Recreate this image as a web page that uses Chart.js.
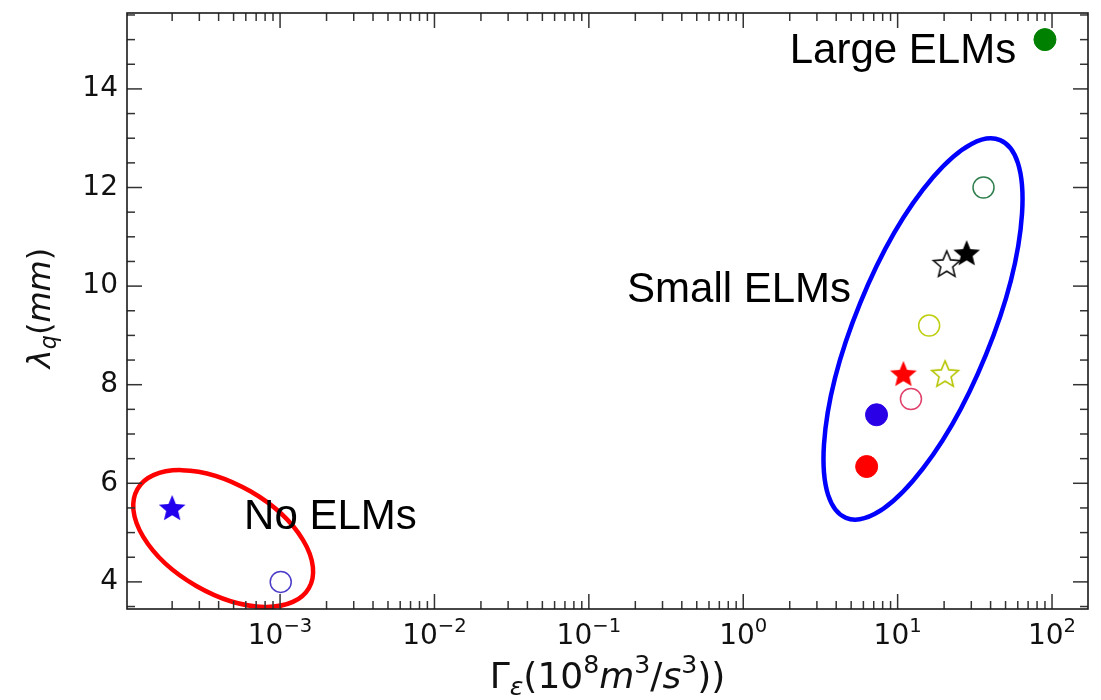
<!DOCTYPE html>
<html>
<head>
<meta charset="utf-8">
<script src="https://cdn.jsdelivr.net/npm/chart.js@4.4.1/dist/chart.umd.min.js"></script>
<style>
  html, body { margin: 0; padding: 0; background: #fff; }
</style>
</head>
<body>
<canvas id="chart" width="1101" height="700"></canvas>
<script>
// energy flux parameter and heat flux width, one entry per discharge
const gammaEps = [2.0e-4, 1.01e-3, 90, 36, 28, 20.8, 16, 10.9, 20.3, 12.2, 7.3, 6.3];
const lambdaQ  = [5.5, 4.0, 15.0, 12.0, 10.67, 10.45, 9.2, 8.22, 8.22, 7.71, 7.39, 6.34];

const xTickValues = [1e-3, 1e-2, 1e-1, 1, 10, 100];
const xTickExponents = ['\u22123', '\u22122', '\u22121', '0', '1', '2'];
const yTickValues = [4, 6, 8, 10, 12, 14];

const regimeLabels = ['No ELMs', 'Small ELMs', 'Large ELMs'];

// marker look for each discharge, same order as the data
const markerStyles = [
  { shape: 'star',   filled: true,  color: '#2200ee' },
  { shape: 'circle', filled: false, color: '#4a3cc8' },
  { shape: 'circle', filled: true,  color: '#008000' },
  { shape: 'circle', filled: false, color: '#2f7f4f' },
  { shape: 'star',   filled: true,  color: '#000000' },
  { shape: 'star',   filled: false, color: '#111111' },
  { shape: 'circle', filled: false, color: '#bfcf10' },
  { shape: 'star',   filled: true,  color: '#ff0000' },
  { shape: 'star',   filled: false, color: '#b5c400' },
  { shape: 'circle', filled: false, color: '#e0406a' },
  { shape: 'circle', filled: true,  color: '#2a00e6' },
  { shape: 'circle', filled: true,  color: '#ff0000' }
];

// regime outlines (centre in data units, radii in px)
const regimeEllipses = [
  { x: 4.28e-4, y: 4.88, rx: 99, ry: 54.5, angle: 30, color: '#ff0000' },
  { x: 14.6, y: 9.13, rx: 204, ry: 68, angle: -67.8, color: '#0000ff' }
];
const regimeAnchors = [
  { x: 5.85e-4, y: 5.07 },
  { x: 0.1767, y: 9.68 },
  { x: 2.0, y: 14.53 }
];

// five pointed star drawn once into a small canvas, used as pointStyle
function starImage(color, filled, r) {
  const size = Math.ceil(r * 2 + 4);
  const c = document.createElement('canvas');
  c.width = c.height = size;
  const g = c.getContext('2d');
  const cx = size / 2, cy = size / 2 + 1;
  const inner = r * 0.45;
  g.beginPath();
  for (let i = 0; i < 10; i++) {
    const rad = i % 2 === 0 ? r : inner;
    const a = -Math.PI / 2 + i * Math.PI / 5;
    g.lineTo(cx + rad * Math.cos(a), cy + rad * Math.sin(a));
  }
  g.closePath();
  g.lineJoin = 'miter';
  if (filled) {
    g.fillStyle = color;
    g.fill();
  } else {
    g.strokeStyle = color;
    g.lineWidth = 1.6;
    g.stroke();
  }
  return c;
}

const datasets = gammaEps.map((gx, i) => {
  const st = markerStyles[i];
  const ds = {
    data: [{ x: gx, y: lambdaQ[i] }],
    borderColor: st.color,
    backgroundColor: st.filled ? st.color : 'rgba(0,0,0,0)'
  };
  if (st.shape === 'star') {
    ds.pointStyle = starImage(st.color, st.filled, 14);
  } else {
    ds.pointStyle = 'circle';
    ds.pointRadius = st.filled ? 11 : 10.5;
    ds.pointBorderWidth = st.filled ? 1 : 1.5;
  }
  return ds;
});

// text made of pieces with sub/superscripts, mathtext style
function runsWidth(g, runs, size) {
  let w = 0;
  runs.forEach(r => {
    g.font = (r.it ? 'italic ' : '') + (size * (r.s || 1)) + 'px "DejaVu Sans"';
    w += g.measureText(r.t).width;
  });
  return w;
}
function drawRuns(g, runs, x, y, size, align) {
  const w = runsWidth(g, runs, size);
  let px = align === 'center' ? x - w / 2 : x;
  g.textAlign = 'left';
  g.textBaseline = 'alphabetic';
  runs.forEach(r => {
    g.font = (r.it ? 'italic ' : '') + (size * (r.s || 1)) + 'px "DejaVu Sans"';
    g.fillText(r.t, px, y + (r.dy || 0) * size);
    px += g.measureText(r.t).width;
  });
}

const SUB = 0.7;
const xTitleRuns = [
  { t: '\u0393' },
  { t: '\u03b5', it: true, s: SUB, dy: 0.2 },
  { t: '(10' },
  { t: '8', s: SUB, dy: -0.42 },
  { t: 'm', it: true },
  { t: '3', s: SUB, dy: -0.42 },
  { t: '/' },
  { t: 's', it: true },
  { t: '3', s: SUB, dy: -0.42 },
  { t: '))' }
];
const yTitleRuns = [
  { t: '\u03bb', it: true },
  { t: 'q', it: true, s: SUB, dy: 0.2 },
  { t: '(' },
  { t: 'mm', it: true },
  { t: ')' }
];

// frame, inward ticks, log tick labels, titles and regime annotations
const framePlugin = {
  id: 'frame',
  beforeDatasetsDraw(chart) {
    const g = chart.ctx;
    const xs = chart.scales.x, ys = chart.scales.y;
    g.save();
    regimeEllipses.forEach(e => {
      g.beginPath();
      g.ellipse(xs.getPixelForValue(e.x), ys.getPixelForValue(e.y), e.rx, e.ry, e.angle * Math.PI / 180, 0, Math.PI * 2);
      g.strokeStyle = e.color;
      g.lineWidth = 4.5;
      g.stroke();
    });
    g.restore();
  },
  afterDraw(chart) {
    const g = chart.ctx;
    const a = chart.chartArea;
    const xs = chart.scales.x, ys = chart.scales.y;
    g.save();

    // ticks
    g.strokeStyle = '#333';
    g.lineWidth = 1.5;
    const major = 15, minor = 8;
    const tick = (x1, y1, x2, y2) => { g.beginPath(); g.moveTo(x1, y1); g.lineTo(x2, y2); g.stroke(); };
    for (let d = -4; d <= 2; d++) {
      for (let k = 1; k <= 9; k++) {
        const v = k * Math.pow(10, d);
        if (v < xs.min || v > xs.max) continue;
        const px = xs.getPixelForValue(v);
        const len = k === 1 ? major : minor;
        tick(px, a.bottom, px, a.bottom - len);
        tick(px, a.top, px, a.top + len);
      }
    }
    for (let v = 3.5; v <= 15.5; v += 0.5) {
      if (v < ys.min || v > ys.max) continue;
      const py = ys.getPixelForValue(v);
      const len = yTickValues.includes(v) ? major : minor;
      tick(a.left, py, a.left + len, py);
      tick(a.right, py, a.right - len, py);
    }

    // frame
    g.strokeStyle = '#1a1a1a';
    g.lineWidth = 1.6;
    g.strokeRect(a.left, a.top, a.right - a.left, a.bottom - a.top);

    // x tick labels 10^n
    g.fillStyle = '#111';
    xTickValues.forEach((v, i) => {
      const px = xs.getPixelForValue(v);
      drawRuns(g, [{ t: '10' }, { t: xTickExponents[i], s: SUB, dy: -0.42 }], px, a.bottom + 35, 28, 'center');
    });

    // axis titles
    drawRuns(g, xTitleRuns, (a.left + a.right) / 2, 688, 36, 'center');
    g.save();
    g.translate(50, (a.top + a.bottom) / 2 - 3);
    g.rotate(-Math.PI / 2);
    drawRuns(g, yTitleRuns, 0, 0, 32, 'center');
    g.restore();

    // regime labels
    g.fillStyle = '#000';
    g.font = '42px "Liberation Sans"';
    g.textAlign = 'left';
    g.textBaseline = 'alphabetic';
    regimeLabels.forEach((txt, i) => {
      const p = regimeAnchors[i];
      g.fillText(txt, xs.getPixelForValue(p.x), ys.getPixelForValue(p.y));
    });
    g.restore();
  }
};

const ctx = document.querySelector('#chart').getContext('2d');

new Chart(ctx, {
  type: 'scatter',
  data: { datasets },
  options: {
    responsive: false,
    animation: false,
    layout: { padding: { top: 13, right: 13, left: 0, bottom: 0 }, autoPadding: false },
    plugins: { legend: { display: false }, tooltip: { enabled: false } },
    scales: {
      x: {
        type: 'logarithmic',
        min: 1.02e-4,
        max: 171,
        grid: { display: false, drawTicks: false },
        border: { display: false },
        ticks: { display: false },
        afterBuildTicks: s => { s.ticks = xTickValues.map(v => ({ value: v })); },
        afterFit: s => { s.height = 91; s.paddingLeft = 0; s.paddingRight = 0; }
      },
      y: {
        min: 3.45,
        max: 15.54,
        grid: { display: false, drawTicks: false },
        border: { display: false },
        ticks: { font: { family: 'DejaVu Sans', size: 28 }, color: '#111', padding: 9 },
        afterBuildTicks: s => { s.ticks = yTickValues.map(v => ({ value: v })); },
        afterFit: s => { s.width = 127; s.paddingTop = 0; s.paddingBottom = 0; }
      }
    }
  },
  plugins: [framePlugin]
});
</script>
</body>
</html>
